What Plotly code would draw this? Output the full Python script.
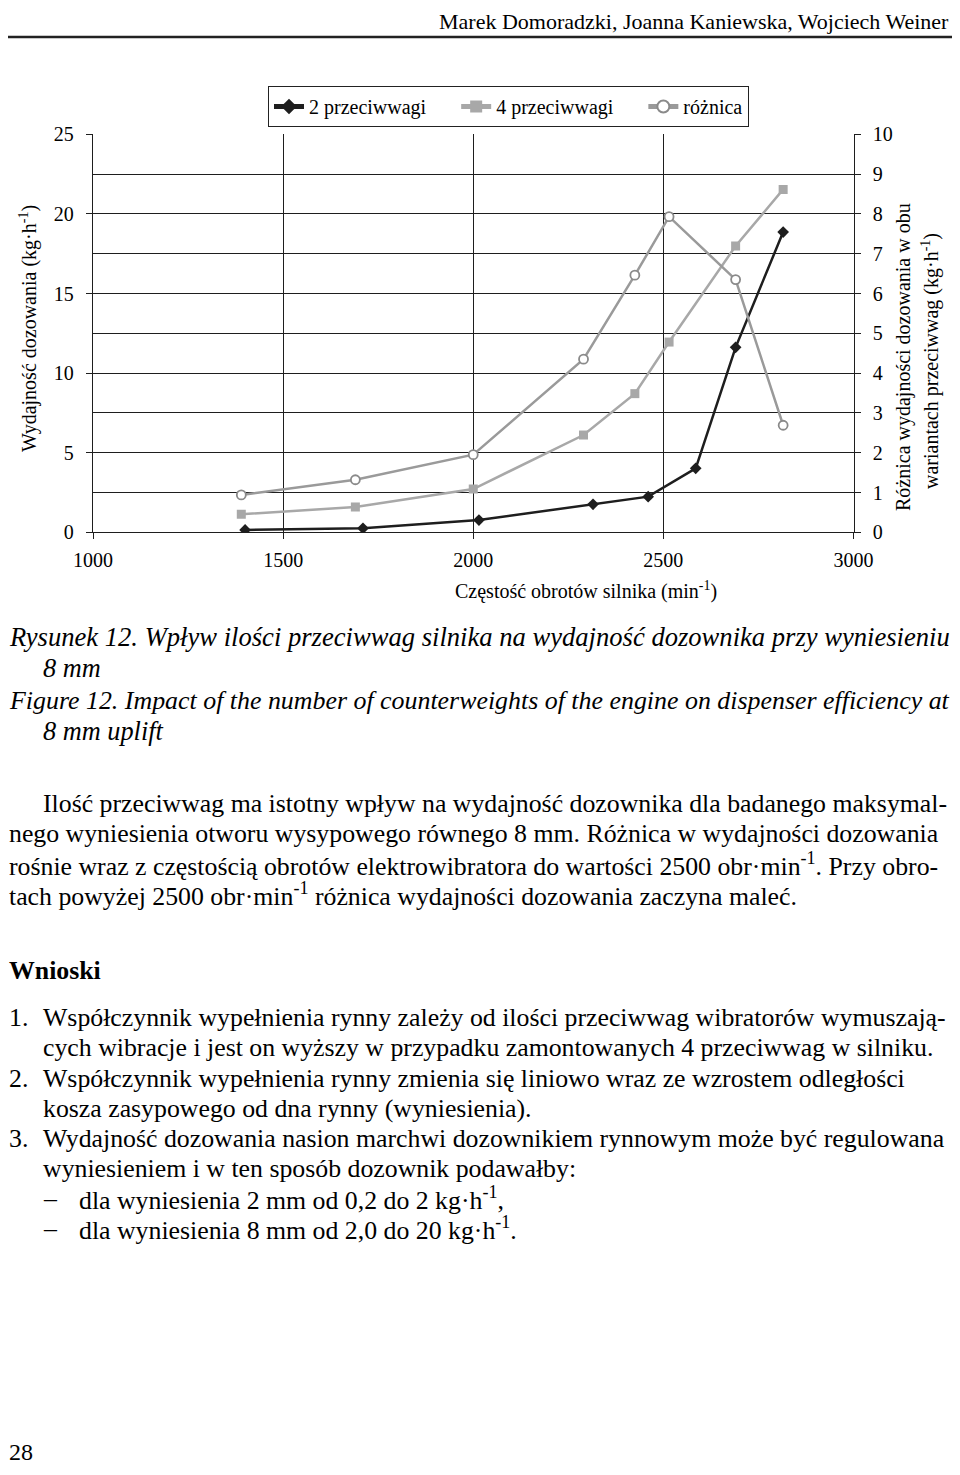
import plotly.graph_objects as go

# ---- data ----
rpm_2 = [1400, 1710, 2015, 2315, 2460, 2585, 2690, 2815]
val_2 = [0.15, 0.25, 0.77, 1.76, 2.24, 4.02, 11.62, 18.86]
rpm_4 = [1390, 1690, 2000, 2290, 2425, 2515, 2690, 2815]
val_4 = [1.13, 1.59, 2.72, 6.11, 8.71, 11.95, 17.98, 21.54]
rpm_d = [1390, 1690, 2000, 2290, 2425, 2515, 2690, 2815]
val_d = [0.94, 1.32, 1.95, 4.35, 6.46, 7.93, 6.35, 2.69]
series_names = ["2 przeciwwagi", "4 przeciwwagi", "różnica"]

# page body has an 8px margin in the browser; size the figure to fit inside it
PAD = 8
W, H = 960 - 2 * PAD, 1475 - 2 * PAD
FONT = "Liberation Serif"


def px(x):
    return (x - PAD) / W


def py(y):
    return 1 - (y - PAD) / H


NB = "\u00a0" * 5
fig = go.Figure()
fig.add_trace(go.Scatter(x=rpm_2, y=val_2, name=series_names[0] + NB, mode="lines+markers",
                         line=dict(color="#1e1e1e", width=2.5),
                         marker=dict(symbol="diamond", size=9, color="#1e1e1e")))
fig.add_trace(go.Scatter(x=rpm_4, y=val_4, name=series_names[1] + NB, mode="lines+markers",
                         line=dict(color="#a8a8a8", width=2.5),
                         marker=dict(symbol="square", size=9, color="#a8a8a8")))
fig.add_trace(go.Scatter(x=rpm_d, y=val_d, name=series_names[2], mode="lines+markers",
                         yaxis="y2",
                         line=dict(color="#9a9a9a", width=2.5),
                         marker=dict(symbol="circle", size=9, color="white",
                                     line=dict(color="#8a8a8a", width=1.8))))

x0, x1 = 93, 853.5
y0, y1 = 532.3, 134.3
tickfont = dict(family=FONT, size=20, color="black")
GRID = "#1e1e1e"

fig.update_layout(
    width=W, height=H, autosize=False,
    margin=dict(l=0, r=0, t=0, b=0, autoexpand=False),
    paper_bgcolor="white", plot_bgcolor="white",
    font=dict(family=FONT, color="black"),
    showlegend=True,
    legend=dict(orientation="h", x=px(268), y=py(86), xanchor="left", yanchor="top",
                bordercolor="#222", borderwidth=1, bgcolor="white",
                font=dict(family=FONT, size=20, color="black"),
                itemsizing="constant"),
    xaxis=dict(domain=[px(x0), px(x1)], range=[1000, 3000], dtick=500,
               showgrid=True, gridcolor=GRID, gridwidth=1.3,
               showline=True, linecolor=GRID, linewidth=1.3,
               ticks="outside", ticklen=6, tickcolor=GRID, tickwidth=1.3,
               tickfont=tickfont, zeroline=False, anchor="y",
               ticklabelstandoff=4, automargin=False),
    yaxis=dict(domain=[py(y0), py(y1)], range=[0, 25], dtick=5,
               showgrid=True, gridcolor=GRID, gridwidth=1.3,
               minor=dict(dtick=2.5, showgrid=True, gridcolor=GRID, gridwidth=1.3),
               showline=True, linecolor=GRID, linewidth=1.3,
               ticks="outside", ticklen=6, tickcolor=GRID, tickwidth=1.3,
               tickfont=tickfont, zeroline=False, ticklabelstandoff=8, automargin=False),
    yaxis2=dict(overlaying="y", side="right", range=[0, 10], dtick=1,
                showgrid=False, showline=True, linecolor=GRID, linewidth=1.3,
                ticks="outside", ticklen=6, tickcolor=GRID, tickwidth=1.3,
                tickfont=tickfont, zeroline=False, anchor="x", ticklabelstandoff=8,
                automargin=False),
)

ann = []


def text(x, y, s, size=24, anchor="left", italic=False, bold=False, angle=0, yanchor="middle"):
    st = "italic" if italic else "normal"
    wt = "bold" if bold else "normal"
    ann.append(dict(x=px(x), y=py(y), xref="paper", yref="paper", text=s, showarrow=False,
                    xanchor=anchor, yanchor=yanchor, textangle=angle, borderpad=0,
                    font=dict(family=FONT, size=size, color="black", style=st, weight=wt)))


# axis titles
text(28, 329, "Wydajność dozowania (kg·h<sup>-1</sup>)", size=20, anchor="center", angle=-90)
text(903, 357, "Różnica wydajności dozowania w obu", size=20, anchor="center", angle=-90)
text(930, 361, "wariantach przeciwwag (kg·h<sup>-1</sup>)", size=20, anchor="center", angle=-90)
text(586, 590, "Częstość obrotów silnika (min<sup>-1</sup>)", size=20, anchor="center")

# header
text(950, 8, "Marek Domoradzki, Joanna Kaniewska, Wojciech Weiner", size=22, anchor="right",
     yanchor="top")

# caption
text(8, 637, "Rysunek 12. Wpływ ilości przeciwwag silnika na wydajność dozownika przy wyniesieniu",
     size=26.6, italic=True)
text(42, 668, "8 mm", size=26.3, italic=True)
text(8, 700, "Figure 12. Impact of the number of counterweights of the engine on dispenser efficiency at",
     size=25.9, italic=True)
text(42, 731, "8 mm uplift", size=26.3, italic=True)

BODY = 25.8
body = [
    (42, 803, "Ilość przeciwwag ma istotny wpływ na wydajność dozownika dla badanego maksymal-"),
    (8, 834, "nego wyniesienia otworu wysypowego równego 8 mm. Różnica w wydajności dozowania"),
    (8, 864, "rośnie wraz z częstością obrotów elektrowibratora do wartości 2500 obr·min<sup>-1</sup>. Przy obro-"),
    (8, 894, "tach powyżej 2500 obr·min<sup>-1</sup> różnica wydajności dozowania zaczyna maleć."),
]
for bx, by, s in body:
    text(bx, by, s, size=BODY)

text(8, 970, "Wnioski", size=BODY, bold=True)

items = [
    (8, 1017, "1."), (42, 1017, "Współczynnik wypełnienia rynny zależy od ilości przeciwwag wibratorów wymuszają-"),
    (42, 1047, "cych wibracje i jest on wyższy w przypadku zamontowanych 4 przeciwwag w silniku."),
    (8, 1078, "2."), (42, 1078, "Współczynnik wypełnienia rynny zmienia się liniowo wraz ze wzrostem odległości"),
    (42, 1108, "kosza zasypowego od dna rynny (wyniesienia)."),
    (8, 1138, "3."), (42, 1138, "Wydajność dozowania nasion marchwi dozownikiem rynnowym może być regulowana"),
    (42, 1168, "wyniesieniem i w ten sposób dozownik podawałby:"),
    (42, 1198, "–"), (78, 1198, "dla wyniesienia 2 mm od 0,2 do 2 kg·h<sup>-1</sup>,"),
    (42, 1228, "–"), (78, 1228, "dla wyniesienia 8 mm od 2,0 do 20 kg·h<sup>-1</sup>."),
]
for bx, by, s in items:
    text(bx, by, s, size=BODY)

text(8, 1466, "28", size=24, yanchor="bottom")

fig.update_layout(annotations=ann)
fig.add_shape(type="line", xref="paper", yref="paper", x0=px(8), x1=px(955), y0=py(37), y1=py(37),
              line=dict(color="#222", width=2.5))

fig.write_html("out.html")
